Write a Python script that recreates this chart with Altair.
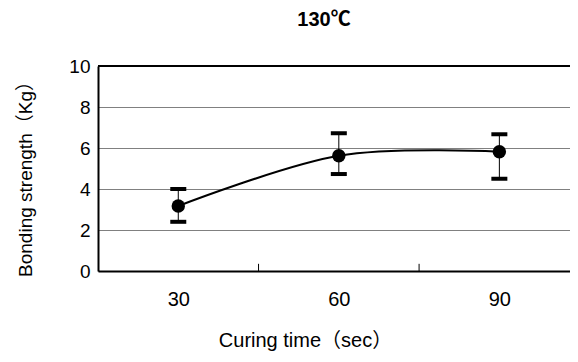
import altair as alt
import pandas as pd

times = [30, 60, 90]
means = [3.17, 5.62, 5.82]
upper = [4.0, 6.72, 6.67]
lower = [2.4, 4.73, 4.5]
y_ticks = [0, 2, 4, 6, 8, 10]
x_labels = [30, 60, 90]
x_separators = [45, 75]

FONT = "Liberation Sans, Arial, Noto Sans CJK JP"

df = pd.DataFrame({"t": times, "m": means, "hi": upper, "lo": lower})
sep = pd.DataFrame({"t": x_separators, "y0": [0, 0], "y1": [0.35, 0.35]})

xs = alt.Scale(domain=[15, 103.2], nice=False, zero=False)
ys = alt.Scale(domain=[0, 10], nice=False)

x_enc = alt.X("t:Q", scale=xs, axis=alt.Axis(
    values=x_labels, ticks=False, grid=False, domainColor="black", domainWidth=2,
    labelFontSize=20, labelPadding=18, labelColor="black", labelFont=FONT,
    title="Curing time（sec）", titleFontSize=20, titleFont=FONT, titleFontWeight="normal",
    titleColor="black", titleX=207, titleY=75, titleBaseline="alphabetic", titleAlign="center"))
y_enc = alt.Y("m:Q", scale=ys, axis=alt.Axis(
    values=y_ticks, ticks=False, grid=True, gridColor="#808080", gridWidth=1,
    domainColor="black", domainWidth=2, labelFontSize=19, labelPadding=8,
    labelColor="black", labelFont=FONT,
    title="Bonding strength（Kg）", titleFontSize=19, titleFont=FONT,
    titleFontWeight="normal", titleColor="black", titleX=-63, titleY=108))

base = alt.Chart(df)

line = base.mark_line(color="black", strokeWidth=2, interpolate="cardinal").encode(x=x_enc, y=y_enc)
bars = base.mark_rule(color="black", strokeWidth=1).encode(x="t:Q", y="lo:Q", y2="hi:Q")
cap_hi = base.mark_tick(color="black", opacity=1, orient="horizontal", size=16, thickness=4).encode(x="t:Q", y="hi:Q")
cap_lo = base.mark_tick(color="black", opacity=1, orient="horizontal", size=16, thickness=4).encode(x="t:Q", y="lo:Q")
pts = base.mark_circle(color="black", opacity=1, size=180).encode(x="t:Q", y="m:Q")
top = alt.Chart(pd.DataFrame({"v": [10]})).mark_rule(color="black", strokeWidth=2).encode(y=alt.Y("v:Q", scale=ys))
seps = alt.Chart(sep).mark_rule(color="black", strokeWidth=1).encode(
    x=alt.X("t:Q", scale=xs), y=alt.Y("y0:Q", scale=ys), y2="y1:Q")

chart = alt.layer(line, bars, cap_hi, cap_lo, pts, top, seps).properties(
    width=472, height=205,
    autosize=alt.AutoSizeParams(type="none"),
    padding={"left": 90, "top": 58, "right": 0, "bottom": 83},
    title=alt.TitleParams("130℃", fontSize=20, fontWeight="bold", font=FONT, color="black",
                          anchor="middle", frame="group", dx=-10, offset=27),
).configure_view(stroke=None).configure(background="white")

chart.save("out.html", embed_options={"renderer": "svg", "actions": False})
